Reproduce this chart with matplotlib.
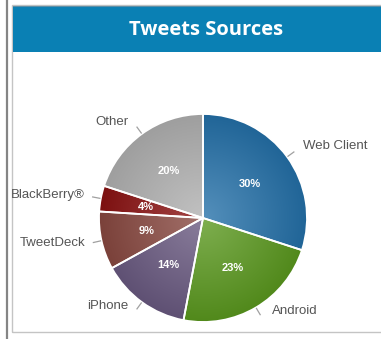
import numpy as np
import matplotlib
matplotlib.use("Agg")
import matplotlib.pyplot as plt
from matplotlib.patches import Rectangle
from matplotlib.colors import to_rgb

# data
sources = ["Web Client", "Android", "iPhone", "TweetDeck", "BlackBerry\u00ae", "Other"]
shares = [30, 23, 14, 9, 4, 20]
colors = ["#2470a8", "#5a981e", "#695980", "#884840", "#8a1212", "#b0b0b0"]
title = "Tweets Sources"

W, H = 381, 339
fig = plt.figure(figsize=(W / 100, H / 100), dpi=100)
ax = fig.add_axes([0, 0, 1, 1])
ax.set_xlim(0, W)
ax.set_ylim(0, H)
ax.set_aspect("equal")
ax.axis("off")

def Y(y):
    return H - y

# frame and header
ax.plot([7, 7], [0, H], color="#858585", lw=1.6)
ax.add_patch(Rectangle((12, Y(332)), W, 327, fill=False, ec="#c4c4c4", lw=1))
ax.add_patch(Rectangle((12.5, Y(52)), W, 46, fc="#0a80b4", ec="none"))
ax.plot([12.5, W], [Y(6), Y(6)], color="#5b8fa8", lw=0.8)
ax.text(206, Y(30), title, color="white", fontsize=14.5, fontweight="bold",
        family="Open Sans", ha="center", va="center")

cx, cy, R = 203, Y(218), 104
wedges, texts, autotexts = ax.pie(
    shares, labels=sources, colors=colors, startangle=90, counterclock=False,
    center=(cx, cy), radius=R, labeldistance=1.17, pctdistance=0.56,
    autopct="%d%%", wedgeprops=dict(ec="white", lw=1.3),
    textprops=dict(family="Liberation Sans"))

# radial shading, lighter toward the middle
gx, gy = np.meshgrid(np.linspace(cx - R, cx + R, 300), np.linspace(cy - R, cy + R, 300))
rr = np.clip(np.hypot(gx - cx, gy - cy) / R, 0, 1)[..., None]
for w, c in zip(wedges, colors):
    base = np.array(to_rgb(c))
    light = base + (1 - base) * 0.22
    dark = base * 0.9
    img = light * (1 - rr) + dark * rr
    im = ax.imshow(img, extent=(cx - R, cx + R, cy - R, cy + R), origin="lower",
                   zorder=w.get_zorder() + 0.1)
    im.set_clip_path(w)
    w.set_zorder(w.get_zorder() + 0.2)
    w.set_facecolor("none")

# label placement (radial distance, horizontal padding)
label_dist = [1.18, 1.04, 1.046, 1.10, 1.16, 1.14]
label_pad = [1, 14, 11, 6, 0, 5]
for w, t, a, d, p in zip(wedges, texts, autotexts, label_dist, label_pad):
    ang = np.deg2rad((w.theta1 + w.theta2) / 2)
    dx, dy = np.cos(ang), np.sin(ang)
    side = 1 if dx > 0 else -1
    t.set_position((cx + d * R * dx + side * p, cy + d * R * dy))
    t.set_ha("left" if side > 0 else "right")
    t.set_va("center")
    t.set_fontsize(9.5)
    t.set_color("#555555")
    ax.plot([cx + 1.01 * R * dx, cx + 1.08 * R * dx],
            [cy + 1.01 * R * dy, cy + 1.08 * R * dy], color="#a0a0a0", lw=0.9)
    a.set_color("white")
    a.set_fontsize(8)
    a.set_fontweight("bold")
    a.set_zorder(10)

ax.set_xlim(0, W)
ax.set_ylim(0, H)
fig.savefig("out.png", dpi=100)
